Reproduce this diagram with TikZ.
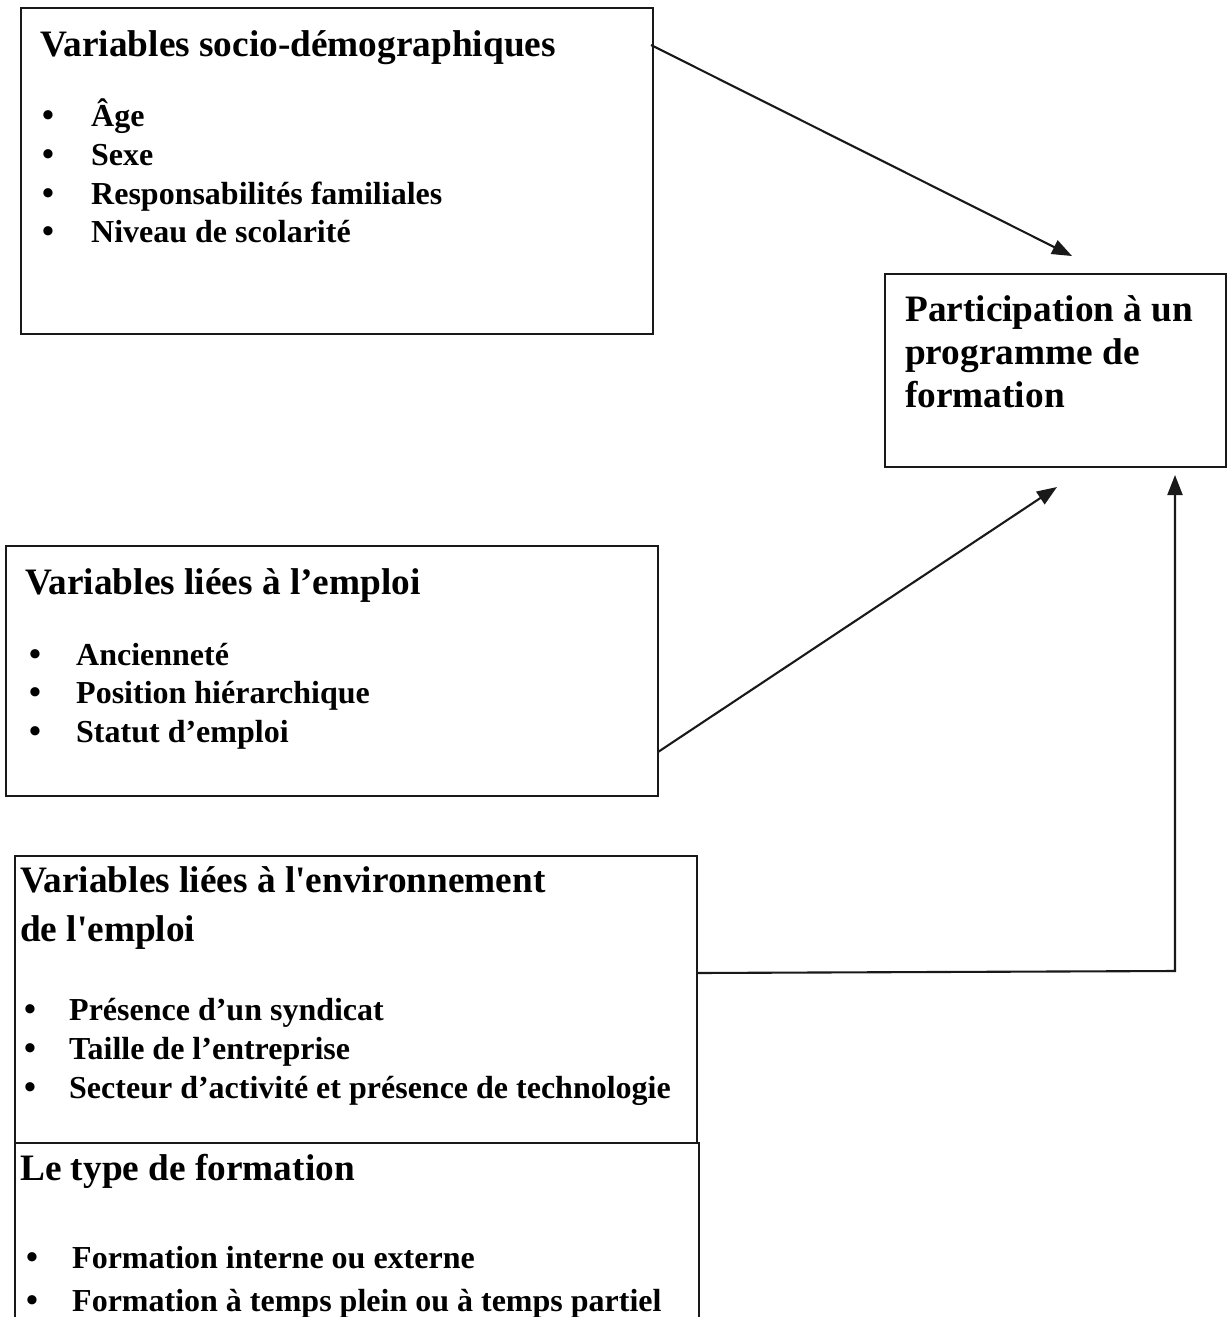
\documentclass[tikz,border=0pt]{standalone}
\usepackage{fontspec}
\setmainfont{Liberation Serif}[Ligatures=TeXOff]
\usetikzlibrary{arrows.meta,calc}
\begin{document}
\begin{tikzpicture}[x=1pt,y=-1pt,
  box/.style={draw=black!90,line width=2.1pt,inner sep=0pt,outer sep=0pt,anchor=north west},
  head/.style={anchor=base west,inner sep=0pt,font=\fontsize{37.3}{43}\selectfont\bfseries},
  item/.style={anchor=base west,inner sep=0pt,font=\fontsize{32}{39}\selectfont\bfseries},
  dot/.style={anchor=base,inner sep=0pt,font=\fontsize{34}{39}\selectfont\bfseries},
  link/.style={line width=2.1pt,draw=black!90,-{Triangle[length=20pt,width=15pt]}}]
\useasboundingbox (0,0) rectangle (1227,1317);
\clip (0,0) rectangle (1227,1317);

% boxes
\node[box,minimum width=632pt,minimum height=326pt] (b1) at (21,8) {};
\node[box,minimum width=341pt,minimum height=193pt] (out) at (885,274) {};
\node[box,minimum width=652pt,minimum height=250pt] (b2) at (6,546) {};
\node[box,minimum width=682pt,minimum height=287pt] (b3) at (15,856) {};
\node[box,minimum width=684pt,minimum height=200pt] (b4) at (15,1143) {};

% socio-demographic variables
\node[head] (t1) at (40,56) {Variables socio-démographiques};
\node[dot] (d11) at (48,126) {•}; \node[item] (i11) at (91,126) {Âge};
\node[dot] (d12) at (48,165) {•}; \node[item] (i12) at (91,165) {Sexe};
\node[dot] (d13) at (48,204) {•}; \node[item] (i13) at (91,204) {Responsabilités familiales};
\node[dot] (d14) at (48,242) {•}; \node[item] (i14) at (91,242) {Niveau de scolarité};

% outcome
\node[head] (o1) at (905,321) {Participation à un};
\node[head] (o2) at (905,364) {programme de};
\node[head] (o3) at (905,407) {formation};

% job variables
\node[head] (t2) at (25,594) {Variables liées à l’emploi};
\node[dot] (d21) at (35,665) {•}; \node[item] (i21) at (76,665) {Ancienneté};
\node[dot] (d22) at (35,703) {•}; \node[item] (i22) at (76,703) {Position hiérarchique};
\node[dot] (d23) at (35,742) {•}; \node[item] (i23) at (76,742) {Statut d’emploi};

% job environment variables
\node[head] (t3a) at (20,892) {Variables liées à l'environnement};
\node[head] (t3b) at (20,941) {de l'emploi};
\node[dot] (d31) at (30,1020) {•}; \node[item] (i31) at (69,1020) {Présence d’un syndicat};
\node[dot] (d32) at (30,1059) {•}; \node[item] (i32) at (69,1059) {Taille de l’entreprise};
\node[dot] (d33) at (30,1098) {•}; \node[item] (i33) at (69,1098) {Secteur d’activité et présence de technologie};

% training type
\node[head] (t4) at (20,1180) {Le type de formation};
\node[dot] (d41) at (32,1268) {•}; \node[item] (i41) at (72,1268) {Formation interne ou externe};
\node[dot] (d42) at (32,1311) {•}; \node[item] (i42) at (72,1311) {Formation à temps plein ou à temps partiel};

% connectors
\coordinate (a1) at ($(out.north west)+(187,-18)$);
\coordinate (a2) at ($(out.south west)+(172,20)$);
\coordinate (a3) at ($(out.south west)+(290,8)$);
\draw[link] ($(b1.north east)+(-2,37)$) -- (a1);
\draw[link] ($(b2.north east)+(0,206)$) -- (a2);
\draw[link] ($(b3.north east)+(0,117)$) -- (1175,971) -- (a3);
\end{tikzpicture}
\end{document}
